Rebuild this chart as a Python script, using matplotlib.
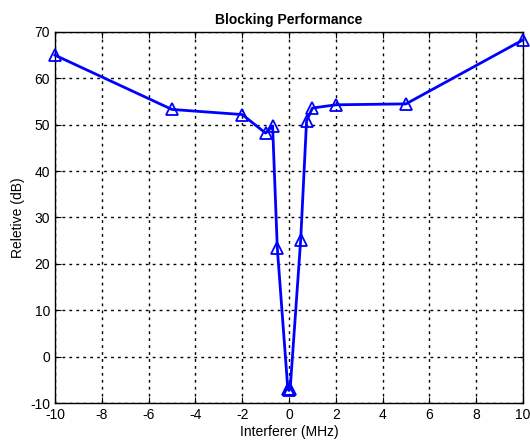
import matplotlib
matplotlib.use("Agg")
import matplotlib.pyplot as plt

freq = [-10, -5, -2, -1, -0.7, -0.5, -0.05, 0, 0.05, 0.5, 0.75, 1, 2, 5, 10]
rel = [65, 53.3, 52.2, 48.2, 49.7, 23.4, -7.0, -7.3, -7.0, 25.2, 50.8, 53.6, 54.3, 54.5, 68.3]
xticks = list(range(-10, 11, 2))
yticks = list(range(-10, 71, 10))

plt.rcParams['font.family'] = ['Liberation Sans', 'DejaVu Sans']
plt.rcParams['axes.unicode_minus'] = False
fig = plt.figure(figsize=(5.3, 4.4), dpi=100)
ax = fig.add_axes([55/530, 1 - 403/440, (523-55)/530, (403-32)/440])
ax.plot(freq, rel, color='#0000ff', lw=2, marker='^', ms=8, mfc='none', mec='#0000ff', mew=1.3, clip_on=False, zorder=3)
ax.set_xlim(-10, 10)
ax.set_ylim(-10, 70)
ax.set_xticks(xticks)
ax.set_yticks(yticks)
ax.grid(True, color='black', linestyle=(0, (2, 3)), lw=1)
ax.tick_params(direction='in', top=True, right=True, labelsize=10, length=4)
for s in ax.spines.values():
    s.set_linewidth(1)
ax.set_title('Blocking Performance', fontsize=10, fontweight='bold', pad=6)
ax.set_xlabel('Interferer (MHz)', fontsize=10, labelpad=2)
ax.set_ylabel('Reletive (dB)', fontsize=10, labelpad=4)
fig.savefig('out.png', dpi=100)
